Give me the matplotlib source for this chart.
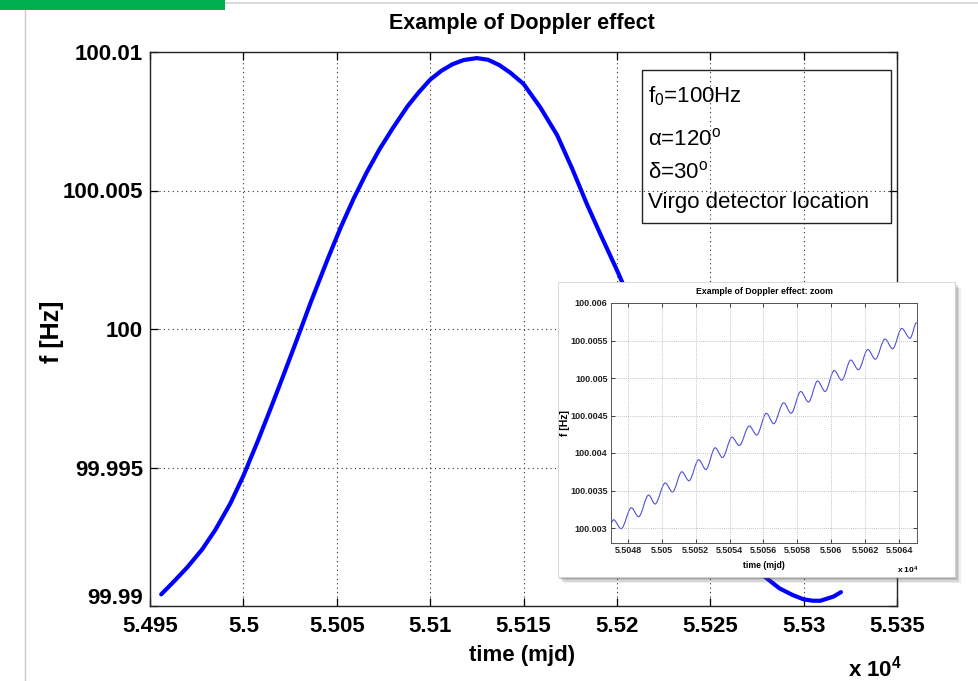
import matplotlib
matplotlib.use('Agg')
import matplotlib.pyplot as plt
from matplotlib.path import Path
from matplotlib.patches import PathPatch, Rectangle
from matplotlib.lines import Line2D
from matplotlib.transforms import ScaledTranslation

plt.rcParams['font.family'] = ['Liberation Sans', 'DejaVu Sans']
plt.rcParams['mathtext.fontset'] = 'custom'
plt.rcParams['mathtext.rm'] = 'Liberation Sans'
plt.rcParams['mathtext.it'] = 'Liberation Sans:italic'
plt.rcParams['mathtext.bf'] = 'Liberation Sans:bold'

# ---------------- data ----------------
main_mjd = [54956, 54963, 54970, 54978, 54985, 54993, 55000, 55008, 55015, 55021,
            55028, 55036, 55045, 55052, 55059, 55066, 55073, 55080, 55088, 55094,
            55100, 55106, 55112, 55118, 55125, 55131, 55137, 55143, 55150, 55159,
            55168, 55176, 55184, 55192, 55200, 55210, 55220, 55230, 55240, 55250,
            55260, 55270, 55278, 55287, 55294, 55300, 55305, 55309, 55316, 55320]
main_freq = [99.99042, 99.99090, 99.99140, 99.99205, 99.99275, 99.99370, 99.99470, 99.99600, 99.99720, 99.99825,
             99.99950, 100.00095, 100.00250, 100.00365, 100.00470, 100.00565, 100.00650, 100.00725, 100.00805, 100.00855,
             100.00900, 100.00932, 100.00956, 100.00971, 100.00978, 100.00972, 100.00953, 100.00925, 100.00885, 100.00800,
             100.00700, 100.00580, 100.00450, 100.00330, 100.00213, 100.00060, 99.99900, 99.99750, 99.99600, 99.99450,
             99.99310, 99.99190, 99.99112, 99.99064, 99.99040, 99.99024, 99.99019, 99.99019, 99.99034, 99.99050]

main_xticks = [54950, 55000, 55050, 55100, 55150, 55200, 55250, 55300, 55350]
main_xticklabels = ['5.495', '5.5', '5.505', '5.51', '5.515', '5.52', '5.525', '5.53', '5.535']
main_yticks = [99.99, 99.995, 100.0, 100.005, 100.01]
main_yticklabels = ['99.99', '99.995', '100', '100.005', '100.01']

# daily maxima / minima of the zoomed curve
zoom_mjd = [55047.04, 55047.15, 55047.60, 55048.20, 55048.63, 55049.22, 55049.60, 55050.20,
            55050.63, 55051.18, 55051.60, 55052.18, 55052.60, 55053.15, 55053.58, 55054.14,
            55054.57, 55055.16, 55055.60, 55056.17, 55056.60, 55057.19, 55057.63, 55058.20,
            55058.66, 55059.19, 55059.64, 55060.17, 55060.62, 55061.15, 55061.60, 55062.16,
            55062.60, 55063.17, 55063.62, 55064.16, 55064.65, 55065.04]
zoom_freq = [100.00308, 100.00311, 100.00299, 100.00327, 100.00315, 100.00344, 100.00332, 100.00360,
             100.00348, 100.00375, 100.00363, 100.00391, 100.00378, 100.00407, 100.00394, 100.00421,
             100.00410, 100.00436, 100.00424, 100.00453, 100.00439, 100.00467, 100.00453, 100.00482,
             100.00468, 100.00496, 100.00482, 100.00510, 100.00497, 100.00524, 100.00511, 100.00538,
             100.00525, 100.00552, 100.00539, 100.00566, 100.00553, 100.00574]

zoom_xticks = [55048, 55050, 55052, 55054, 55056, 55058, 55060, 55062, 55064]
zoom_xticklabels = ['5.5048', '5.505', '5.5052', '5.5054', '5.5056', '5.5058', '5.506', '5.5062', '5.5064']
zoom_yticks = [100.003, 100.0035, 100.004, 100.0045, 100.005, 100.0055, 100.006]
zoom_yticklabels = ['100.003', '100.0035', '100.004', '100.0045', '100.005', '100.0055', '100.006']

legend_lines = [r'f$_0$=100Hz', r'α=120$^\mathrm{o}$', r'δ=30$^\mathrm{o}$', 'Virgo detector location']

# ---------------- figure ----------------
W, H = 979, 681
fig = plt.figure(figsize=(W / 100, H / 100), dpi=100)
fig.patch.set_facecolor('white')


def fx(px):
    return px / W


def fy(py):
    return 1 - py / H


# page decorations
fig.add_artist(Rectangle((0, fy(10)), fx(225), 10 / H, transform=fig.transFigure,
                         facecolor='#00b050', edgecolor='none', zorder=5))
fig.add_artist(Line2D([fx(225), 1], [fy(2.5), fy(2.5)], transform=fig.transFigure,
                      color='#d4d4d4', lw=1.2))
fig.add_artist(Line2D([fx(25), fx(25)], [0, fy(10)], transform=fig.transFigure,
                      color='#c8c8c8', lw=1.0))

# ---------------- main axes ----------------
ax = fig.add_axes([fx(150), fy(606), fx(897) - fx(150), fy(52) - fy(606)])
ax.plot(main_mjd, main_freq, color='#0000ff', lw=3.0, solid_joinstyle='round',
        solid_capstyle='round')
ax.set_xlim(54950, 55350)
ax.set_ylim(99.99, 100.01)
ax.set_xticks(main_xticks)
ax.set_xticklabels(main_xticklabels)
ax.set_yticks(main_yticks)
ax.set_yticklabels(main_yticklabels)
ax.tick_params(direction='in', top=True, right=True, length=6, width=0.9)
ax.tick_params(axis='x', pad=7.5)
ax.tick_params(axis='y', pad=5)
for lab in ax.get_xticklabels() + ax.get_yticklabels():
    lab.set_fontweight('bold')
    lab.set_fontsize(16)
# the lowest y label sits a little higher in the reference
ylabs = ax.get_yticklabels()
ylabs[0].set_transform(ylabs[0].get_transform() +
                       ScaledTranslation(0, 10 / 100, fig.dpi_scale_trans))
ax.grid(True, linestyle=(0, (1, 3)), color='#333333', lw=0.8)
for s in ax.spines.values():
    s.set_linewidth(1.0)
    s.set_color('#222222')

fig.text(fx(522), fy(29), 'Example of Doppler effect', ha='center', va='baseline',
         fontsize=15.5, fontweight='bold')
fig.text(fx(522), fy(656), 'time (mjd)', ha='center', va='center',
         fontsize=16, fontweight='bold')
fig.text(fx(848), fy(676), r'x 10$^\mathbf{4}$', ha='left', va='baseline',
         fontsize=16, fontweight='bold')
fig.text(fx(52), fy(332), 'f [Hz]', ha='center', va='center', rotation=90,
         fontsize=18, fontweight='bold')

# legend-like text box
fig.add_artist(Rectangle((fx(642), fy(223)), fx(891) - fx(642), fy(70) - fy(223),
                         transform=fig.transFigure, fill=False, edgecolor='#222222',
                         lw=1.0, zorder=2))
leg_baselines = [102, 145, 178, 208]
for txt, b in zip(legend_lines, leg_baselines):
    fig.text(fx(648), fy(b), txt, ha='left', va='baseline', fontsize=16,
             zorder=3)

# ---------------- inset ----------------
fl, ft, fr, fb = 558, 282, 955, 577
for k, a in zip([6, 4.5, 3, 1.5], [0.10, 0.14, 0.18, 0.22]):
    fig.add_artist(Rectangle((fx(fl + k), fy(fb + k)), fx(fr) - fx(fl), fy(ft) - fy(fb),
                             transform=fig.transFigure, facecolor='#555555',
                             edgecolor='none', alpha=a, zorder=1.5))
fig.add_artist(Rectangle((fx(fl), fy(fb)), fx(fr) - fx(fl), fy(ft) - fy(fb),
                         transform=fig.transFigure, facecolor='white',
                         edgecolor='#d0d0d0', lw=0.6, zorder=2))

ax2 = fig.add_axes([fx(611), fy(543), fx(917) - fx(611), fy(303) - fy(543)], zorder=3)
ax2.set_xlim(55047.0, 55065.06)
ax2.set_ylim(100.0028, 100.006)
verts = [(zoom_mjd[0], zoom_freq[0])]
codes = [Path.MOVETO]
for i in range(1, len(zoom_mjd)):
    x0, y0 = zoom_mjd[i - 1], zoom_freq[i - 1]
    x1, y1 = zoom_mjd[i], zoom_freq[i]
    d = (x1 - x0) / 3.0
    verts += [(x0 + d, y0), (x1 - d, y1), (x1, y1)]
    codes += [Path.CURVE4, Path.CURVE4, Path.CURVE4]
ax2.add_patch(PathPatch(Path(verts, codes), fill=False, edgecolor='#5050d8', lw=0.8))
ax2.set_xticks(zoom_xticks)
ax2.set_xticklabels(zoom_xticklabels)
ax2.set_yticks(zoom_yticks)
ax2.set_yticklabels(zoom_yticklabels)
ax2.tick_params(direction='in', top=True, right=True, length=3, width=0.6,
                pad=2.5, colors='#222222')
for lab in ax2.get_xticklabels() + ax2.get_yticklabels():
    lab.set_fontweight('bold')
    lab.set_fontsize(6.5)
ax2.grid(True, linestyle=(0, (1, 1.5)), color='#b0b0b0', lw=0.6)
for s in ax2.spines.values():
    s.set_linewidth(0.7)
    s.set_color('#555555')

fig.text(fx(764), fy(291), 'Example of Doppler effect: zoom', ha='center', va='center',
         fontsize=6.3, fontweight='bold', zorder=4)
fig.text(fx(764), fy(565), 'time (mjd)', ha='center', va='center',
         fontsize=6.2, fontweight='bold', zorder=4)
fig.text(fx(897), fy(574), r'x 10$^\mathbf{4}$', ha='left', va='baseline',
         fontsize=6, fontweight='bold', zorder=4)
fig.text(fx(565), fy(423), 'f [Hz]', ha='center', va='center', rotation=90,
         fontsize=7.5, fontweight='bold', zorder=4)

fig.savefig('out.png', dpi=100)
